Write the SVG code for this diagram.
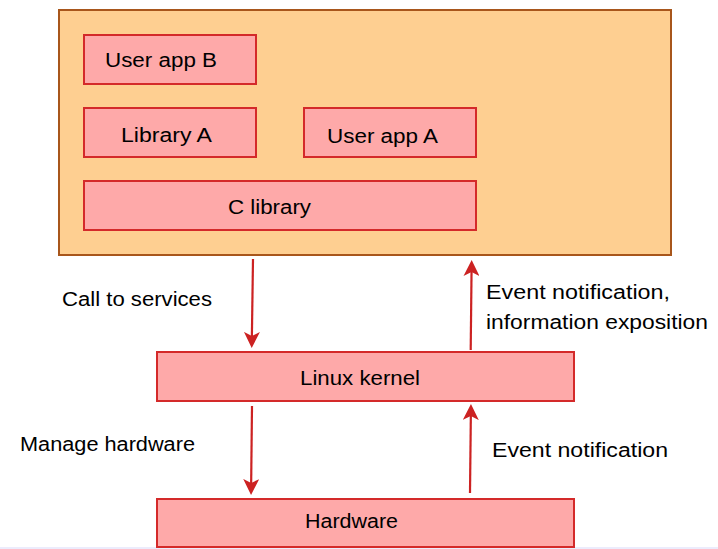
<svg xmlns="http://www.w3.org/2000/svg" width="718" height="549" viewBox="0 0 718 549">
<style>
.outer{fill:#fecf91;stroke:#a8561b;stroke-width:2}
.box{fill:#fea9a9;stroke:#d42a2a;stroke-width:2}
text{font-family:"Liberation Sans","DejaVu Sans",sans-serif;font-size:20px;fill:#000}
.arr{stroke:#cc2222;stroke-width:2.2;fill:none;marker-end:url(#head)}
</style>
<defs>
<marker id="head" markerUnits="userSpaceOnUse" viewBox="0 0 16 16" refX="10" refY="8" markerWidth="16" markerHeight="16" orient="auto">
<path d="M0,0 L16,8 L0,16 L4,8 z" fill="#cc2222"/>
</marker>
</defs>
<rect x="0" y="547" width="718" height="2" fill="#ececfc"/>
<g id="userspace">
<rect class="outer" x="59" y="10" width="612" height="245"/>
</g>
<g id="user-app-b">
<rect class="box" x="84" y="35" width="172" height="49"/>
<text x="105" y="66.5" textLength="112" lengthAdjust="spacingAndGlyphs">User app B</text>
</g>
<g id="library-a">
<rect class="box" x="84" y="108" width="172" height="49"/>
<text x="121" y="141.5" textLength="91" lengthAdjust="spacingAndGlyphs">Library A</text>
</g>
<g id="user-app-a">
<rect class="box" x="304" y="108" width="172" height="49"/>
<text x="327" y="143" textLength="111" lengthAdjust="spacingAndGlyphs">User app A</text>
</g>
<g id="c-library">
<rect class="box" x="84" y="181" width="392" height="49"/>
<text x="228" y="213.5" textLength="83" lengthAdjust="spacingAndGlyphs">C library</text>
</g>
<g id="linux-kernel">
<rect class="box" x="157" y="352" width="417" height="49"/>
<text x="300" y="385" textLength="120" lengthAdjust="spacingAndGlyphs">Linux kernel</text>
</g>
<g id="hardware">
<rect class="box" x="157" y="499" width="417" height="48"/>
<text x="305" y="528" textLength="93" lengthAdjust="spacingAndGlyphs">Hardware</text>
</g>
<g id="connectors">
<path class="arr" d="M253,259 L251.8,342"/>
<path class="arr" d="M470.7,350 L471.6,266"/>
<path class="arr" d="M252,406 L251.1,489"/>
<path class="arr" d="M470,493 L470.9,410"/>
<text x="62" y="306" textLength="150" lengthAdjust="spacingAndGlyphs">Call to services</text>
<text x="486" y="299" textLength="184" lengthAdjust="spacingAndGlyphs">Event notification,</text>
<text x="486" y="329" textLength="222" lengthAdjust="spacingAndGlyphs">information exposition</text>
<text x="20" y="451" textLength="175" lengthAdjust="spacingAndGlyphs">Manage hardware</text>
<text x="492" y="457" textLength="176" lengthAdjust="spacingAndGlyphs">Event notification</text>
</g>
</svg>
